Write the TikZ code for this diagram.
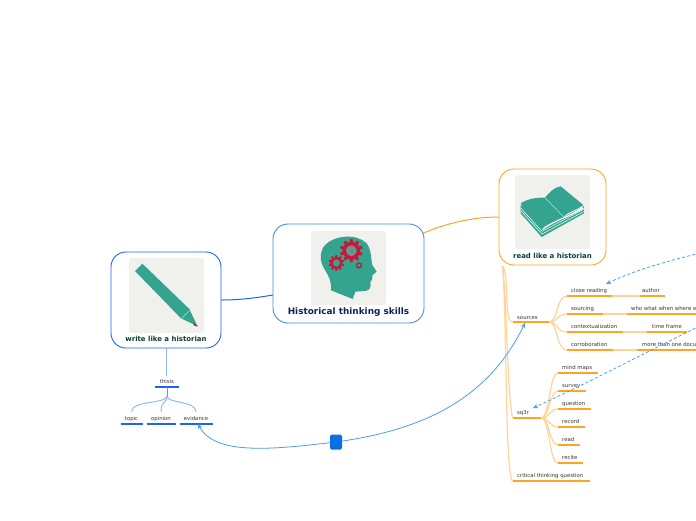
\documentclass[tikz,border=0pt]{standalone}
\usepackage{fontspec}
\setmainfont{DejaVu Sans}
\usetikzlibrary{arrows.meta}
\definecolor{teal1}{HTML}{35A48E}
\definecolor{tile}{HTML}{F0F0EC}
\definecolor{gearred}{HTML}{C8163C}
\definecolor{navy}{HTML}{0B2459}
\definecolor{pine}{HTML}{0F3D33}
\definecolor{amber}{HTML}{FFA425}
\definecolor{paleamber}{HTML}{FFD49A}
\definecolor{royal}{HTML}{1F63F5}
\definecolor{paleroyal}{HTML}{8FB4F5}
\definecolor{linkblue}{HTML}{4B9FEC}
\definecolor{rootedge}{HTML}{3A93DE}
\definecolor{handleblue}{HTML}{0A6FE0}
\tikzset{
  x=1pt,y=-1pt,
  mainbox/.style={draw,line width=.9pt,rounded corners=15pt,fill=white},
  tiletop/.style={fill=tile,rounded corners=3pt},
  bigtitle/.style={font=\bfseries\fontsize{8.9}{10}\selectfont,text=navy,inner sep=0pt},
  subtitle/.style={font=\bfseries\fontsize{6.95}{8}\selectfont,text=pine,inner sep=0pt},
  leaf/.style={font=\fontsize{5.35}{6}\selectfont,text=black!80,inner sep=0pt,anchor=base west},
  leafmid/.style={font=\fontsize{5.35}{6}\selectfont,text=black!80,inner sep=0pt,anchor=base},
  under/.style={line width=1.3pt,amber},
  underblue/.style={line width=1.3pt,royal},
  palelink/.style={line width=1.2pt,paleamber},
  palelinkblue/.style={line width=.9pt,paleroyal},
  relation/.style={line width=.8pt,linkblue},
  relationdash/.style={line width=.8pt,linkblue,dash pattern=on 3pt off 2.2pt},
  linktip/.style={-{Stealth[length=5pt,width=4.5pt]}},
}
% Gear built from a ring of teeth around a ring; sizes are in picture points.
\newcommand{\gearwheel}[4]{% x, y, radius, tooth count
  \foreach \gearang in {1,...,#4}{
    \fill[gearred,rotate around={\gearang*360/#4:(#1,#2)}]
      (#1-0.22*#3,#2-0.8*#3) -- (#1-0.14*#3,#2-1.32*#3) -- (#1+0.14*#3,#2-1.32*#3) -- (#1+0.22*#3,#2-0.8*#3) -- cycle;
  }
  \draw[gearred,line width=#3*0.13pt] (#1,#2) circle[radius=#3*0.82];
}
\begin{document}
\begin{tikzpicture}
\useasboundingbox (0,0) rectangle (696,520);
\clip (0,0) rectangle (696,520);
\fill[white] (0,0) rectangle (696,520);

% links between the three main boxes
\coordinate (rootE) at (421,234);
\coordinate (readW) at (499,217);
\coordinate (rootW) at (273,295);
\coordinate (writeE) at (221,300);
\draw[line width=1pt,amber] (rootE) .. controls (445,224) and (470,217) .. (readW);
\draw[line width=1pt,royal] (rootW) .. controls (255,298) and (240,300) .. (writeE);

% central topic
\node[mainbox,draw=rootedge,minimum width=151pt,minimum height=99pt,inner sep=0pt] (root) at (348.5,273.5) {};
\fill[tiletop] (311,231) rectangle (386,305);
\begin{scope}[shift={(260,210)},x=.3333pt,y=-.3333pt]
  \fill[teal1] (213,241) .. controls (215,215) and (205,195) .. (195,180)
    .. controls (178,155) and (178,125) .. (195,105)
    .. controls (225,75) and (290,70) .. (320,100)
    .. controls (335,120) and (333,150) .. (337,165)
    -- (350,185) -- (337,196) .. controls (340,205) and (335,212) .. (331,216)
    .. controls (334,230) and (330,242) .. (315,243)
    -- (286,245) -- (278,267) -- cycle;
  \gearwheel{274}{122}{26}{10}
  \gearwheel{229}{159}{18}{10}
  \gearwheel{297}{166}{8}{8}
  \draw[gearred!60!white,line width=.5pt] (274,122) circle[radius=13];
  \draw[gearred!60!white,line width=.4pt] (274,122) circle[radius=8];
\end{scope}
\node[bigtitle] (rootlabel) at (348.5,312) {Historical thinking skills};

% reading branch
\node[mainbox,draw=amber,minimum width=107pt,minimum height=96pt,inner sep=0pt] (read) at (552.5,217) {};
\fill[tiletop] (515,175) rectangle (590,249);
\begin{scope}[shift={(490,160)},x=.3333pt,y=-.3333pt]
  \fill[teal1] (92,135) -- (92,160) -- (155,231) -- (282,160) -- (282,138) -- (220,172) -- cycle;
  \draw[white,line width=.5pt] (93,145) -- (156,214) -- (281,148);
  \draw[white,line width=.5pt] (93,153) -- (156,222) -- (281,155);
  \fill[white] (158,205) .. controls (190,180) and (240,170) .. (276,140) -- (281,146) .. controls (240,170) and (190,185) .. (158,210) -- cycle;
  \fill[teal1] (92,130) .. controls (115,115) and (145,112) .. (165,113)
    .. controls (175,100) and (195,80) .. (212,79)
    -- (280,135) .. controls (260,150) and (235,155) .. (220,170)
    .. controls (190,175) and (170,190) .. (155,205) -- cycle;
  \draw[tile!70!teal1,line width=.5pt] (165,113) -- (220,170);
\end{scope}
\node[subtitle] (readlabel) at (552.5,255.5) {read like a historian};

% writing branch
\node[mainbox,draw=royal,minimum width=110pt,minimum height=96pt,inner sep=0pt] (write) at (166,300) {};
\fill[tiletop] (129,258) rectangle (204,333);
\begin{scope}[shift={(100,245)},x=.3333pt,y=-.3333pt]
  \fill[teal1] (105,78) -- (127,56) -- (268,192) -- (292,243) -- (243,220) -- cycle;
  \fill[gearred] (282,233) -- (294,245) -- (280,241) -- cycle;
  \draw[tile!70!teal1,line width=.6pt] (268,197) -- (245,220);
\end{scope}
\node[subtitle] (writelabel) at (166,338.5) {write like a historian};

% reading tree: spine and first-level entries
\coordinate (spine) at (502.5,266);
\coordinate (sourcesW) at (512.5,322);
\coordinate (sourcesE) at (549,322);
\coordinate (sqW) at (512.5,418);
\coordinate (sqE) at (541,418);
\coordinate (critW) at (512.5,481);
\coordinate (critE) at (590,481);
\draw[palelink] (spine) .. controls (510,275) and (503,320) .. (sourcesW);
\draw[palelink] (spine) .. controls (507,300) and (507,390) .. (sqW);
\draw[palelink] (spine) .. controls (507,320) and (505,475) .. (critW);
\draw[under] (sourcesW) -- (sourcesE);
\draw[under] (sqW) -- (sqE);
\draw[under] (critW) -- (critE);
\node[leaf] (sources) at (517,319) {sources};
\node[leaf] (sqr) at (517,414.6) {sq3r};
\node[leaf] (critical) at (517,477.3) {critical thinking question};

% entries under sources, each with its detail entry
\foreach \nm/\yy/\xa/\xb/\xc/\xd/\xt/\la/\lb in {
  close/296/567/612/640/665/642/close reading/author,
  sourcing/314/567/603/627/700/631/sourcing/who what when where why,
  context/332/567/623/647/687/652/contextualization/time frame,
  corrob/350/567/613/637/700/642/corroboration/more than one document}{
  \coordinate (\nm A) at (\xa,\yy);
  \coordinate (\nm B) at (\xb,\yy);
  \coordinate (\nm C) at (\xc,\yy);
  \coordinate (\nm D) at (\xd,\yy);
  \draw[palelink] (sourcesE) .. controls (558,322) and (556,\yy) .. (\nm A);
  \draw[palelink] (\nm B) -- (\nm C);
  \draw[under] (\nm A) -- (\nm B);
  \draw[under] (\nm C) -- (\nm D);
  \node[leaf] (\nm T) at (571,\yy-3.6) {\la};
  \node[leaf] (\nm U) at (\xt,\yy-3.6) {\lb};
}

% entries under sq3r
\foreach \nm/\yy/\xb/\la in {
  maps/373/598/mind maps,
  survey/391/586/survey,
  question/409/591/question,
  record/427/585/record,
  readit/445/580/read,
  recite/463/583/recite}{
  \coordinate (\nm A) at (558,\yy);
  \coordinate (\nm B) at (\xb,\yy);
  \draw[palelink] (sqE) .. controls (550,418) and (549,\yy) .. (\nm A);
  \draw[under] (\nm A) -- (\nm B);
  \node[leaf] (\nm T) at (562,\yy-3.6) {\la};
}

% writing tree
\coordinate (writeS) at (166.5,348);
\coordinate (thesisN) at (166.5,376);
\coordinate (thesisW) at (155,387);
\coordinate (thesisE) at (179,387);
\coordinate (thesisS) at (167,387);
\coordinate (thesisJ) at (167,396);
\draw[palelinkblue] (writeS) -- (thesisN);
\draw[underblue] (thesisW) -- (thesisE);
\draw[line width=1pt,royal!70!white] (thesisS) -- (thesisJ);
\node[leafmid] (thesis) at (167,383) {thisis};
\foreach \nm/\xa/\xb/\tx/\la in {
  topic/120.5/143/131.5/topic,
  opinion/146.5/176/161/opinion,
  evid/179.5/213/196/evidance}{
  \coordinate (\nm A) at (\xa,424);
  \coordinate (\nm B) at (\xb,424);
  \coordinate (\nm N) at (\tx,412);
  \draw[underblue] (\nm A) -- (\nm B);
  \draw[palelinkblue] (thesisJ) .. controls (167,404) and (\tx,400) .. (\nm N);
  \node[leafmid] (\nm T) at (\tx,420) {\la};
}

% relation between evidence and sources, with its handle
\coordinate (relS) at (525,323);
\coordinate (relE) at (198,424);
\node[fill=handleblue,rounded corners=1.5pt,minimum width=12pt,minimum height=15pt,inner sep=0pt] (handle) at (336,442) {};
\draw[relation,linktip] (handle) .. controls (430,428) and (490,395) .. (relS);
\draw[relation,linktip] (handle) .. controls (275,449) and (215,456) .. (relE);

% dashed relations running off the right edge
\coordinate (dashA) at (700,253);
\coordinate (dashAend) at (606,284);
\coordinate (dashB) at (700,326);
\coordinate (dashBend) at (533,408);
\draw[relationdash,linktip] (dashA) .. controls (665,262) and (635,270) .. (dashAend);
\draw[relationdash,linktip] (dashB) .. controls (650,350) and (590,382) .. (dashBend);
\end{tikzpicture}
\end{document}
